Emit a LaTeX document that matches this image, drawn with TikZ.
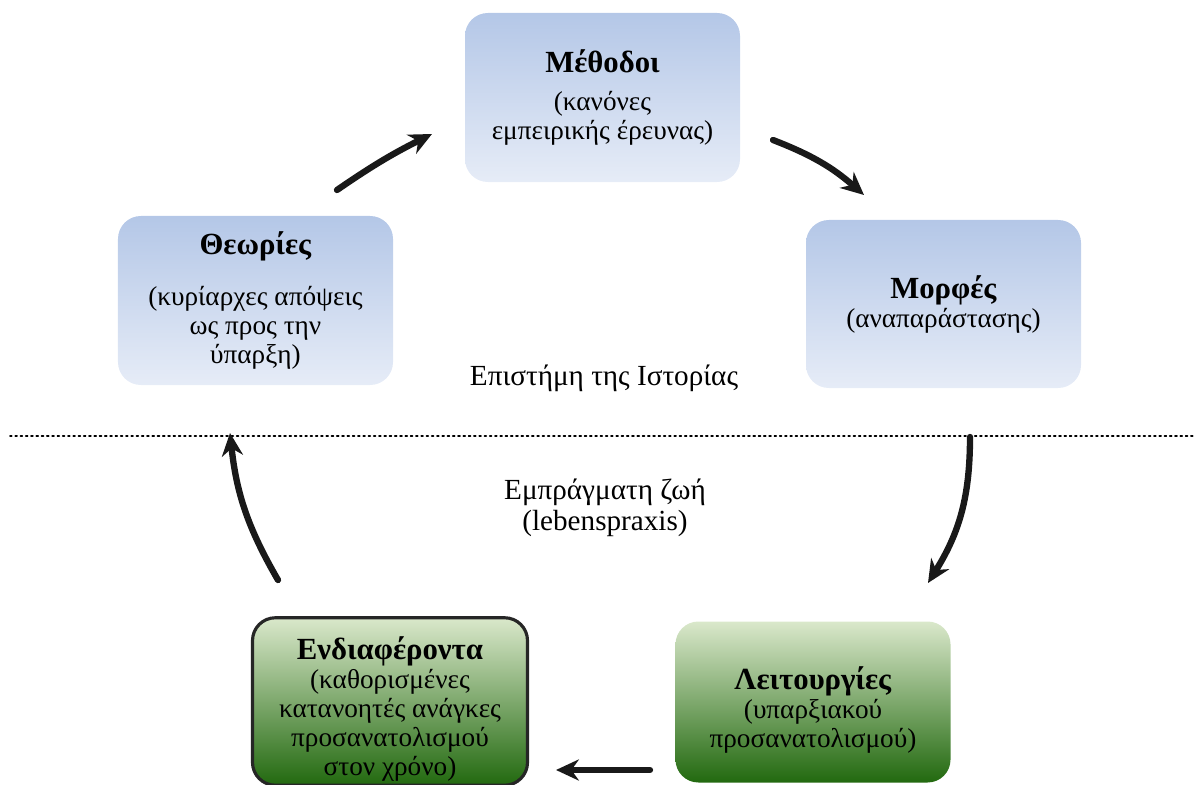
\documentclass[tikz,border=0pt]{standalone}
\usepackage{fontspec}
\setmainfont{Liberation Serif}
\usetikzlibrary{arrows.meta}
\definecolor{blueTop}{HTML}{B4C7E7}
\definecolor{blueBot}{HTML}{E6ECF7}
\definecolor{greenTop}{HTML}{DAE8CB}
\definecolor{greenMid}{HTML}{94BC76}
\definecolor{greenBot}{HTML}{22690F}
\newcommand{\titlos}[1]{{\fontsize{17.5}{16.5}\selectfont\textbf{#1}}}
\newcommand{\ypsos}{\rule{0pt}{22pt}}
\begin{document}
\begin{tikzpicture}[x=0.2mm, y=-0.2mm, line join=round, line cap=round, >={Stealth[length=13pt,width=12pt]},
	box/.style={rounded corners=13pt, minimum width=5.5cm, minimum height=3.38cm, align=center, inner sep=2pt, font=\fontsize{15.5}{16.5}\selectfont},
	bluebox/.style={box, top color=blueTop, bottom color=blueBot},
	greenbox/.style={box, minimum height=3.22cm, top color=greenTop, middle color=greenMid, bottom color=greenBot},
	arr/.style={->, line width=3.6pt, black!90}]
	\useasboundingbox (0,0) rectangle (1195,785);
	% boxes
	\node[bluebox] (metodoi) at (602.5,97.5) {\titlos{Μέθοδοι}\\[5pt](κανόνες\\εμπειρικής έρευνας)};
	\node[bluebox] (theories) at (255.5,300.5) {\titlos{Θεωρίες}\\[12pt](κυρίαρχες απόψεις\\ως προς την\\ύπαρξη)};
	\node[bluebox, minimum height=3.36cm] (morfes) at (943.5,304) {\titlos{Μορφές}\\(αναπαράστασης)};
	\node[greenbox, draw=black!85, line width=1.8pt] (endiaferonta) at (390,701.5) {\ypsos\titlos{Ενδιαφέροντα}\\(καθορισμένες\\κατανοητές ανάγκες\\προσανατολισμού\\στον χρόνο)};
	\node[greenbox] (leitourgies) at (813,702) {\ypsos\titlos{Λειτουργίες}\\(υπαρξιακού\\προσανατολισμού)};
	% texts
	\node[font=\fontsize{16.6}{17.6}\selectfont] (epistimi) at (604,378) {Επιστήμη της Ιστορίας};
	\node[font=\fontsize{16.6}{17.6}\selectfont, align=center] (zoi) at (605,508) {Εμπράγματη ζωή\\(lebenspraxis)};
	\draw[dotted, line width=1pt] (10,436)--(1195,436);
	% arrows
	\coordinate (a1) at (337,190); \coordinate (b1) at (432,134);
	\coordinate (a2) at (773,140); \coordinate (b2) at (864,195);
	\coordinate (a3) at (970,437); \coordinate (b3) at (928,583);
	\coordinate (a4) at (650,770); \coordinate (b4) at (556,770);
	\coordinate (a5) at (278,580); \coordinate (b5) at (230,433);
	\draw[arr] (a1) to[bend left=4] (b1);
	\draw[arr] (a2) to[bend left=10] (b2);
	\draw[arr] (a3) to[bend left=16] (b3);
	\draw[arr] (a4)--(b4);
	\draw[arr] (a5) to[bend left=12] (b5);
\end{tikzpicture}
\end{document}
